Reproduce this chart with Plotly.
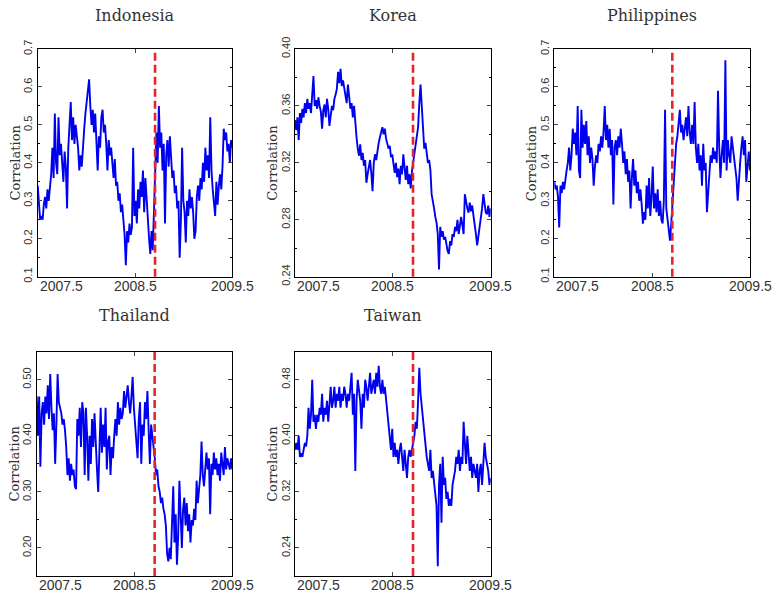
import numpy as np
import plotly.graph_objects as go

# ---------------- data ----------------
countries = ["Indonesia", "Korea", "Philippines", "Thailand", "Taiwan"]
x_start, x_end = 2007.5, 2009.5
event_date = 2008.706          # red dashed marker (mid-Sep 2008)
x_tick_labels = ["2007.5", "2008.5", "2009.5"]

indonesia = [
    0.34, 0.30, 0.25, 0.26, 0.25, 0.29, 0.31, 0.28, 0.33, 0.30,
    0.33, 0.37, 0.44, 0.36, 0.53, 0.40, 0.37, 0.52, 0.42, 0.45,
    0.40, 0.35, 0.43, 0.39, 0.28, 0.44, 0.50, 0.56, 0.46, 0.52,
    0.45, 0.50, 0.47, 0.44, 0.38, 0.42, 0.39, 0.45, 0.49, 0.53,
    0.56, 0.58, 0.62, 0.55, 0.50, 0.54, 0.48, 0.53, 0.45, 0.38,
    0.47, 0.44, 0.52, 0.54, 0.48, 0.50, 0.45, 0.38, 0.46, 0.42,
    0.44, 0.39, 0.36, 0.41, 0.34, 0.35, 0.30, 0.32, 0.27, 0.29,
    0.25, 0.21, 0.13, 0.22, 0.19, 0.24, 0.21, 0.23, 0.44, 0.26,
    0.30, 0.24, 0.33, 0.28, 0.35, 0.31, 0.38, 0.27, 0.36, 0.30,
    0.24, 0.20, 0.16, 0.22, 0.17, 0.27, 0.42, 0.48, 0.40, 0.55,
    0.44, 0.48, 0.38, 0.45, 0.24, 0.42, 0.46, 0.39, 0.47, 0.41,
    0.36, 0.38, 0.32, 0.34, 0.28, 0.30, 0.15, 0.25, 0.44, 0.30,
    0.27, 0.19, 0.30, 0.26, 0.33, 0.28, 0.31, 0.27, 0.20, 0.22,
    0.31, 0.34, 0.30, 0.36, 0.33, 0.40, 0.35, 0.44, 0.38, 0.42,
    0.36, 0.52, 0.38, 0.33, 0.30, 0.26, 0.35, 0.29, 0.34, 0.37,
    0.33, 0.39, 0.49, 0.46, 0.48, 0.43, 0.45, 0.40, 0.46, 0.44,
]

korea = [
    0.350, 0.343, 0.352, 0.336, 0.355, 0.348, 0.358, 0.352, 0.362, 0.355,
    0.365, 0.358, 0.362, 0.355, 0.368, 0.381, 0.360, 0.364, 0.358, 0.366,
    0.360, 0.356, 0.344, 0.357, 0.361, 0.352, 0.365, 0.358, 0.346, 0.355,
    0.360, 0.357, 0.365, 0.368, 0.372, 0.384, 0.376, 0.386, 0.374, 0.378,
    0.372, 0.368, 0.362, 0.375, 0.364, 0.358, 0.362, 0.352, 0.360, 0.346,
    0.338, 0.330, 0.325, 0.333, 0.322, 0.327, 0.318, 0.322, 0.306, 0.312,
    0.318, 0.322, 0.313, 0.300, 0.320, 0.326, 0.322, 0.330, 0.334, 0.338,
    0.342, 0.345, 0.340, 0.344, 0.337, 0.334, 0.330, 0.332, 0.324, 0.326,
    0.318, 0.313, 0.320, 0.310, 0.316, 0.305, 0.318, 0.312, 0.326, 0.314,
    0.308, 0.318, 0.305, 0.312, 0.302, 0.314, 0.320, 0.326, 0.332, 0.338,
    0.345, 0.362, 0.375, 0.360, 0.342, 0.330, 0.334, 0.326, 0.320, 0.322,
    0.315, 0.298, 0.294, 0.288, 0.282, 0.278, 0.270, 0.245, 0.275, 0.268,
    0.272, 0.266, 0.268, 0.262, 0.258, 0.256, 0.265, 0.262, 0.270, 0.268,
    0.275, 0.272, 0.280, 0.270, 0.278, 0.282, 0.276, 0.270, 0.298, 0.292,
    0.288, 0.285, 0.292, 0.286, 0.290, 0.283, 0.278, 0.270, 0.262, 0.268,
    0.275, 0.282, 0.288, 0.298, 0.290, 0.285, 0.284, 0.290, 0.282, 0.288,
]

philippines = [
    0.35, 0.33, 0.34, 0.31, 0.23, 0.34, 0.32, 0.35, 0.33, 0.36,
    0.38, 0.40, 0.44, 0.38, 0.42, 0.49, 0.45, 0.48, 0.42, 0.55,
    0.38, 0.36, 0.54, 0.44, 0.50, 0.45, 0.51, 0.42, 0.47, 0.40,
    0.44, 0.41, 0.34, 0.39, 0.42, 0.40, 0.45, 0.43, 0.47, 0.44,
    0.48, 0.55, 0.46, 0.50, 0.44, 0.49, 0.42, 0.46, 0.29, 0.44,
    0.46, 0.42, 0.47, 0.44, 0.49, 0.45, 0.40, 0.43, 0.37, 0.41,
    0.35, 0.38, 0.28, 0.36, 0.41, 0.34, 0.38, 0.32, 0.35, 0.30,
    0.33, 0.29, 0.24, 0.27, 0.25, 0.34, 0.28, 0.36, 0.26, 0.31,
    0.39, 0.28, 0.32, 0.27, 0.33, 0.26, 0.30, 0.25, 0.24, 0.30,
    0.54, 0.28, 0.25, 0.21, 0.195, 0.24, 0.29, 0.37, 0.42, 0.45,
    0.47, 0.50, 0.54, 0.48, 0.50, 0.46, 0.49, 0.52, 0.47, 0.55,
    0.48, 0.45, 0.50, 0.45, 0.56, 0.44, 0.40, 0.45, 0.38, 0.42,
    0.34, 0.45, 0.38, 0.40, 0.27, 0.33, 0.36, 0.42, 0.40, 0.44,
    0.41, 0.43, 0.40, 0.59, 0.44, 0.36, 0.42, 0.46, 0.40, 0.67,
    0.38, 0.46, 0.42, 0.40, 0.47, 0.44, 0.41, 0.38, 0.36, 0.30,
    0.36, 0.40, 0.44, 0.47, 0.42, 0.46, 0.35, 0.40, 0.43, 0.38,
]

thailand = [
    0.47, 0.40, 0.47, 0.345, 0.44, 0.46, 0.42, 0.47, 0.44, 0.49,
    0.43, 0.51, 0.45, 0.41, 0.44, 0.35, 0.42, 0.51, 0.46, 0.45,
    0.44, 0.42, 0.43, 0.41, 0.38, 0.33, 0.36, 0.32, 0.35, 0.33,
    0.34, 0.31, 0.305, 0.43, 0.40, 0.45, 0.38, 0.46, 0.44, 0.33,
    0.45, 0.40, 0.32, 0.40, 0.35, 0.43, 0.38, 0.44, 0.37, 0.34,
    0.30, 0.40, 0.45, 0.37, 0.42, 0.38, 0.45, 0.34, 0.39, 0.40,
    0.33, 0.38, 0.36, 0.40, 0.43, 0.40, 0.46, 0.42, 0.45, 0.43,
    0.44, 0.48, 0.45, 0.47, 0.49, 0.46, 0.44, 0.47, 0.505, 0.45,
    0.42, 0.40, 0.36, 0.43, 0.46, 0.35, 0.42, 0.40, 0.46, 0.43,
    0.48, 0.41, 0.35, 0.42, 0.40, 0.39, 0.36, 0.33, 0.34, 0.31,
    0.30, 0.28, 0.29, 0.27, 0.26, 0.24, 0.19, 0.176, 0.20, 0.18,
    0.25, 0.31, 0.21, 0.26, 0.17, 0.22, 0.32, 0.24, 0.20, 0.27,
    0.29, 0.24, 0.28, 0.23, 0.26, 0.21, 0.25, 0.24, 0.27, 0.25,
    0.32, 0.28, 0.30, 0.33, 0.39, 0.33, 0.31, 0.34, 0.37, 0.34,
    0.36, 0.26, 0.35, 0.33, 0.37, 0.34, 0.36, 0.33, 0.35, 0.32,
    0.37, 0.35, 0.33, 0.38, 0.34, 0.36, 0.35, 0.34, 0.36, 0.34,
]

taiwan = [
    0.38, 0.39, 0.38, 0.40, 0.37, 0.375, 0.37, 0.38, 0.39, 0.385,
    0.40, 0.44, 0.41, 0.43, 0.48, 0.42, 0.43, 0.41, 0.43, 0.42,
    0.44, 0.43, 0.46, 0.42, 0.44, 0.43, 0.45, 0.42, 0.44, 0.47,
    0.44, 0.45, 0.47, 0.44, 0.46, 0.45, 0.47, 0.44, 0.46, 0.45,
    0.47, 0.46, 0.44, 0.46, 0.45, 0.47, 0.49, 0.43, 0.46, 0.35,
    0.45, 0.48, 0.46, 0.45, 0.41, 0.46, 0.44, 0.48, 0.47, 0.45,
    0.47, 0.49, 0.46, 0.47, 0.48, 0.46, 0.49, 0.47, 0.50, 0.47,
    0.46, 0.48, 0.46, 0.47, 0.45, 0.44, 0.42, 0.40, 0.38, 0.41,
    0.37, 0.39, 0.37, 0.38, 0.36, 0.38, 0.39, 0.37, 0.35, 0.38,
    0.36, 0.34, 0.37, 0.38, 0.37, 0.38, 0.39, 0.40, 0.42, 0.41,
    0.45, 0.497, 0.46, 0.44, 0.43, 0.41, 0.39, 0.37, 0.36, 0.35,
    0.38, 0.34, 0.35, 0.33, 0.32, 0.30, 0.214, 0.33, 0.36, 0.276,
    0.37, 0.33, 0.34, 0.31, 0.32, 0.30, 0.31, 0.30, 0.33, 0.34,
    0.35, 0.37, 0.36, 0.38, 0.35, 0.37, 0.36, 0.42, 0.38, 0.36,
    0.40, 0.37, 0.35, 0.37, 0.34, 0.36, 0.35, 0.34, 0.36, 0.32,
    0.35, 0.36, 0.33, 0.36, 0.39, 0.37, 0.36, 0.35, 0.33, 0.34,
]

series = [indonesia, korea, philippines, thailand, taiwan]
y_ranges = [[0.1, 0.7], [0.24, 0.40], [0.1, 0.7], [0.15, 0.55], [0.20, 0.52]]
y_ticks = [
    [0.1, 0.2, 0.3, 0.4, 0.5, 0.6, 0.7],
    [0.24, 0.28, 0.32, 0.36, 0.40],
    [0.1, 0.2, 0.3, 0.4, 0.5, 0.6, 0.7],
    [0.20, 0.30, 0.40, 0.50],
    [0.24, 0.32, 0.40, 0.48],
]
y_fmt = [".1f", ".2f", ".1f", ".2f", ".2f"]
y_minor = [0.05, 0.02, 0.05, 0.05, 0.04]

# ---------------- layout geometry (pixels) ----------------
W, H = 774, 597
boxes = [  # left, right, top, bottom in px
    (37.7, 232.3, 49, 276.7),
    (295.0, 490.7, 49, 276.7),
    (554.3, 750.0, 49, 276.7),
    (36.7, 232.3, 351.7, 576.0),
    (295.0, 490.7, 351.7, 576.0),
]
title_gap = [33, 33, 33, 36.7, 36.7]

fig = go.Figure()
layout = dict(
    width=W, height=H,
    margin=dict(l=0, r=0, t=0, b=0, pad=0, autoexpand=False),
    paper_bgcolor="white", plot_bgcolor="white", showlegend=False,
    annotations=[], shapes=[],
)

tick_font = dict(family="Liberation Sans, Arial, sans-serif", size=11, color="#333333")
serif = "DejaVu Serif, Liberation Serif, serif"

for k, (name, vals) in enumerate(zip(countries, series)):
    n = k + 1
    xa = "xaxis" if n == 1 else f"xaxis{n}"
    ya = "yaxis" if n == 1 else f"yaxis{n}"
    xr = "x" if n == 1 else f"x{n}"
    yr = "y" if n == 1 else f"y{n}"
    L, R, T, B = boxes[k]
    dates = np.linspace(x_start, x_end, len(vals))

    fig.add_trace(go.Scatter(
        x=dates, y=vals, mode="lines", xaxis=xr, yaxis=yr,
        line=dict(color="#0000f0", width=1.9), hoverinfo="skip",
    ))

    layout[xa] = dict(
        domain=[L / W, R / W], anchor=yr, range=[x_start, x_end],
        automargin=False,
        showgrid=False, zeroline=False, showline=True, linecolor="black",
        linewidth=1, mirror="ticks", ticks="inside", ticklen=4,
        tickvals=[float(t) for t in x_tick_labels], showticklabels=False,
    )
    layout[ya] = dict(
        domain=[1 - B / H, 1 - T / H], anchor=xr, range=y_ranges[k],
        automargin=False,
        showgrid=False, zeroline=False, showline=True, linecolor="black",
        linewidth=1, mirror="ticks", ticks="inside", ticklen=4,
        tickvals=y_ticks[k], tickformat=y_fmt[k], tickangle=-90,
        tickfont=tick_font,
        minor=dict(ticks="inside", ticklen=2, dtick=y_minor[k],
                   tick0=y_ranges[k][0], tickcolor="black", showgrid=False),
    )

    # event marker
    layout["shapes"].append(dict(
        type="line", xref=xr, yref=f"{yr} domain", x0=event_date, x1=event_date,
        y0=0, y1=1, line=dict(color="#e3262b", width=2.6, dash="8px,4px"),
        layer="above",
    ))

    # panel title
    layout["annotations"].append(dict(
        text=name, xref=f"{xr} domain", yref=f"{yr} domain", x=0.5, y=1,
        yshift=title_gap[k], xanchor="center", yanchor="middle", showarrow=False,
        font=dict(family=serif, size=16, color="#333333"),
    ))
    # y axis title
    layout["annotations"].append(dict(
        text="Correlation", xref=f"{xr} domain", yref=f"{yr} domain", x=0, y=0.5,
        xshift=-22, xanchor="center", yanchor="middle", textangle=-90,
        showarrow=False, font=dict(family=serif, size=13, color="#333333"),
    ))
    # x tick labels
    for j, lab in enumerate(x_tick_labels):
        layout["annotations"].append(dict(
            text=lab, xref=xr, yref=f"{yr} domain", x=float(lab), y=0,
            yshift=1, xanchor="left" if j == 0 else "center", yanchor="top",
            showarrow=False,
            font=dict(family="Liberation Sans, Arial, sans-serif", size=14,
                      color="#333333"),
        ))

fig.update_layout(**layout)
fig.write_html("out.html")
